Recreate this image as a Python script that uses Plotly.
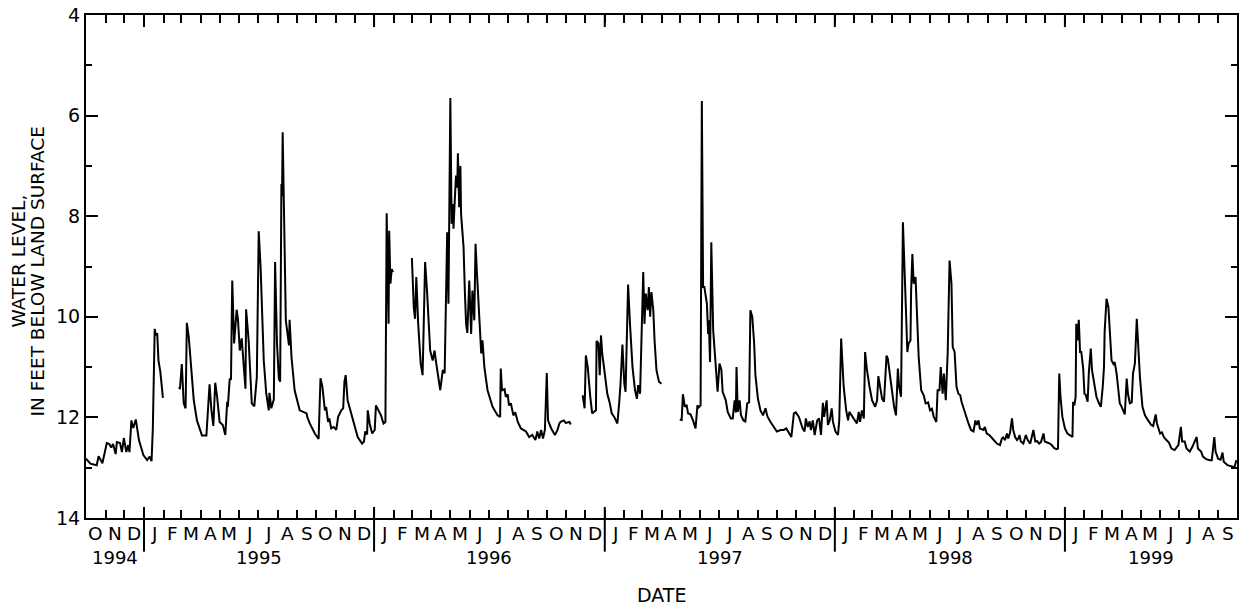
import pandas as pd
import plotly.graph_objects as go

START = pd.Timestamp("1994-10-01")
END = pd.Timestamp("1999-10-01")

# ---- data: days since 1994-10-01 and water level (ft below land surface) ----
days_a = [0, 7, 17, 20, 26, 33, 37, 40, 43, 47, 49, 54, 57, 60, 64, 67, 69, 72, 75, 79,
          84, 91, 97, 101, 104, 106, 109, 111, 113, 115, 118, 122]
level_a = [12.82, 12.92, 12.95, 12.77, 12.91, 12.51, 12.53, 12.60, 12.53, 12.73, 12.49, 12.51,
           12.69, 12.41, 12.69, 12.55, 12.69, 12.06, 12.21, 12.04, 12.45, 12.75, 12.85, 12.78,
           12.87, 12.22, 10.24, 10.37, 10.33, 10.87, 11.10, 11.61]

days_b = [148, 149, 152, 154, 155, 158, 160, 163, 167, 171, 176, 184, 191, 196, 199, 202, 205,
          208, 212, 217, 221, 224, 225, 228, 230, 232, 235, 239, 241, 244, 247, 250, 253, 254,
          258, 263, 267, 271, 274, 277, 282, 286, 290, 291, 294, 298, 300, 303, 306, 308, 310,
          311, 312, 317, 322, 323, 326, 331, 339, 350, 351, 355, 363, 369, 372, 375, 379, 381,
          384, 386, 389, 393, 397, 400, 405, 408, 410, 412, 415, 421, 426, 431, 438, 441, 443,
          446, 447, 450, 454, 458, 460, 464, 468, 472, 475, 477, 480, 481, 483, 485, 487]
level_b = [11.39, 11.44, 10.94, 11.39, 11.72, 11.82, 10.12, 10.40, 11.00, 11.66, 12.06, 12.36,
           12.36, 11.34, 11.86, 12.17, 11.31, 11.59, 12.09, 12.15, 12.35, 11.69, 11.79, 11.23,
           11.25, 9.28, 10.53, 9.86, 10.04, 10.67, 10.43, 11.00, 11.43, 9.85, 10.47, 11.72,
           11.78, 11.20, 8.30, 9.01, 10.87, 11.53, 11.86, 11.51, 11.82, 11.64, 8.91, 10.53,
           11.23, 11.29, 7.36, 7.60, 6.33, 10.07, 10.57, 10.06, 10.80, 11.46, 11.86, 11.92,
           11.99, 12.12, 12.32, 12.43, 11.22, 11.39, 11.86, 11.79, 12.09, 12.02, 12.22, 12.19,
           12.25, 11.99, 11.86, 11.82, 11.29, 11.16, 11.66, 11.92, 12.12, 12.39, 12.52, 12.48,
           12.28, 12.34, 11.86, 12.12, 12.32, 12.25, 11.76, 11.86, 11.96, 12.12, 12.09, 7.94,
           10.14, 8.29, 9.34, 9.05, 9.11]

days_c = [517, 520, 522, 524, 527, 531, 534, 538, 541, 546, 550, 553, 555, 559, 562, 566, 569,
          573, 575, 578, 580, 582, 583, 585, 587, 589, 590, 592, 594, 595, 599, 601, 603, 605,
          608, 611, 613, 616, 618, 620, 623, 627, 629, 632, 637, 645, 653, 657, 658, 660, 664,
          666, 669, 671, 674, 678, 681, 685, 690, 698, 703, 708, 713, 716, 719, 722, 725, 728,
          731, 733, 738, 744, 748, 751, 753, 758, 761, 767, 769]
level_c = [8.83, 9.81, 10.04, 9.21, 10.14, 10.93, 11.16, 8.91, 9.48, 10.67, 10.87, 10.67, 10.87,
           11.26, 11.46, 11.06, 11.12, 8.32, 9.74, 5.65, 8.15, 7.76, 8.25, 7.69, 7.19, 7.43,
           6.75, 7.82, 7.00, 7.95, 8.62, 9.48, 10.14, 10.32, 9.28, 10.34, 9.48, 10.07, 8.55,
           9.08, 9.74, 10.73, 10.47, 11.00, 11.46, 11.79, 11.96, 11.99, 11.03, 11.46, 11.44,
           11.59, 11.54, 11.76, 11.72, 11.96, 11.90, 12.09, 12.22, 12.28, 12.39, 12.35, 12.45,
           12.28, 12.42, 12.25, 12.42, 12.25, 11.12, 12.06, 12.22, 12.35, 12.25, 12.12, 12.09,
           12.06, 12.11, 12.09, 12.14]

days_d = [788, 791, 793, 796, 800, 803, 809, 810, 813, 815, 817, 819, 823, 827, 831, 834, 838,
          843, 846, 848, 851, 854, 856, 860, 863, 867, 871, 874, 876, 879, 884, 886, 888, 891,
          893, 895, 897, 900, 902, 905, 909, 913]
level_d = [11.56, 11.82, 10.77, 11.00, 11.59, 11.92, 11.86, 10.48, 10.53, 11.16, 10.37, 10.73,
           11.13, 11.53, 11.72, 11.92, 11.99, 12.12, 11.69, 11.33, 10.55, 11.33, 11.49, 9.36,
           10.14, 11.00, 11.46, 11.63, 11.36, 11.53, 9.11, 10.14, 9.54, 9.87, 9.41, 10.00,
           9.51, 9.87, 10.47, 11.06, 11.29, 11.33]

days_e = [942, 945, 947, 950, 953, 955, 959, 963, 967, 970, 972, 975, 977, 979, 981, 985, 987,
          988, 990, 992, 995, 999, 1002, 1005, 1008, 1010, 1015, 1018, 1023, 1026, 1029, 1031,
          1032, 1034, 1037, 1039, 1043, 1046, 1049, 1052, 1054, 1057, 1060, 1062, 1066, 1070,
          1074, 1078, 1081, 1086, 1091, 1096, 1102, 1107, 1111, 1115, 1119, 1123, 1126, 1131,
          1134, 1137, 1140, 1142, 1145, 1148, 1150, 1153, 1156, 1160, 1163, 1166, 1169, 1171,
          1175, 1177, 1180, 1183, 1185, 1189, 1193]
level_e = [12.04, 12.05, 11.54, 11.79, 11.75, 11.92, 11.94, 12.06, 12.22, 11.76, 11.80, 11.76,
           5.71, 9.41, 9.41, 9.74, 10.34, 10.07, 10.90, 8.52, 10.27, 11.00, 11.49, 10.93, 11.05,
           11.49, 11.66, 11.89, 12.02, 12.02, 11.66, 11.90, 11.00, 11.89, 11.66, 11.95, 12.06,
           12.08, 11.72, 11.70, 9.87, 10.00, 10.53, 11.16, 11.63, 11.86, 11.96, 11.82, 11.98,
           12.09, 12.19, 12.28, 12.25, 12.25, 12.22, 12.32, 12.39, 11.92, 11.90, 11.99, 12.12,
           12.22, 12.28, 12.02, 12.19, 12.08, 12.25, 12.06, 12.35, 12.06, 12.02, 12.35, 11.71,
           11.99, 11.66, 12.15, 12.05, 11.82, 12.09, 12.28, 12.35]

days_f = [1195, 1198, 1200, 1202, 1206, 1209, 1211, 1215, 1219, 1223, 1226, 1228, 1231, 1234,
          1236, 1239, 1243, 1247, 1252, 1255, 1257, 1260, 1263, 1266, 1270, 1272, 1275, 1279,
          1282, 1285, 1288, 1290, 1293, 1296, 1299, 1301, 1303, 1305, 1308, 1309, 1311, 1313,
          1316, 1318, 1321, 1325, 1329, 1332, 1336, 1339, 1342, 1345, 1349, 1351, 1354, 1356,
          1359, 1361, 1364, 1367, 1370, 1373, 1375, 1378, 1381, 1384, 1387, 1389, 1392, 1396,
          1400, 1404, 1408, 1411, 1413, 1416, 1418, 1424, 1426, 1429, 1433, 1438, 1445, 1450,
          1453, 1455, 1458, 1461, 1463, 1466, 1469, 1471, 1474, 1477, 1479, 1481, 1483, 1487,
          1491, 1494, 1498, 1503, 1506, 1509, 1512, 1515, 1519, 1521, 1526, 1529, 1532, 1536,
          1540, 1542]
level_f = [12.06, 10.43, 10.93, 11.39, 11.86, 12.06, 11.89, 11.97, 12.06, 12.12, 11.89, 12.09,
           11.86, 12.02, 10.70, 11.06, 11.39, 11.66, 11.79, 11.66, 11.18, 11.39, 11.63, 11.69,
           10.77, 10.83, 11.13, 11.53, 11.79, 11.96, 11.03, 11.39, 11.59, 8.12, 9.01, 9.94,
           10.70, 10.53, 10.47, 9.48, 8.75, 9.34, 9.21, 9.87, 10.80, 11.46, 11.56, 11.72, 11.70,
           11.86, 11.83, 11.99, 12.09, 11.46, 11.46, 11.00, 11.53, 11.13, 11.66, 10.73, 8.88,
           9.34, 10.60, 10.70, 11.39, 11.53, 11.56, 11.69, 11.82, 11.99, 12.12, 12.25, 12.28,
           12.06, 12.15, 12.06, 12.22, 12.25, 12.19, 12.32, 12.35, 12.42, 12.52, 12.55, 12.42,
           12.40, 12.45, 12.32, 12.42, 12.30, 12.02, 12.25, 12.39, 12.45, 12.42, 12.35, 12.48,
           12.52, 12.35, 12.45, 12.52, 12.25, 12.48, 12.47, 12.52, 12.49, 12.32, 12.48, 12.50,
           12.52, 12.55, 12.61, 12.63, 12.62]

days_g = [1544, 1546, 1549, 1553, 1557, 1561, 1565, 1566, 1568, 1570, 1571, 1573, 1575, 1577,
          1579, 1582, 1584, 1586, 1589, 1591, 1594, 1596, 1600, 1603, 1607, 1610, 1613, 1615,
          1616, 1619, 1622, 1624, 1627, 1630, 1632, 1635, 1637, 1640, 1643, 1645, 1648, 1651,
          1653, 1656, 1659, 1661, 1664, 1667, 1669, 1672, 1676, 1680, 1685, 1690, 1693, 1697,
          1699, 1704, 1707, 1710, 1714, 1718, 1722, 1727, 1733, 1735, 1737, 1739, 1743, 1746,
          1751, 1755, 1759, 1762, 1764, 1769, 1772, 1777, 1783, 1786, 1790, 1792, 1796, 1800,
          1803, 1805, 1811, 1817, 1822, 1825]
level_g = [11.13, 11.59, 11.99, 12.22, 12.32, 12.36, 12.39, 11.69, 11.76, 11.59, 10.14, 10.47,
           10.06, 10.70, 10.70, 11.03, 11.53, 11.55, 11.69, 11.10, 10.63, 11.06, 11.36, 11.59,
           11.72, 11.79, 11.39, 11.00, 10.30, 9.64, 9.81, 10.27, 10.87, 10.94, 10.90, 11.13,
           11.39, 11.72, 11.79, 11.85, 11.94, 11.23, 11.53, 11.72, 11.70, 11.13, 10.93, 10.04,
           10.47, 11.20, 11.79, 11.96, 12.06, 12.15, 12.17, 11.94, 12.12, 12.32, 12.30, 12.39,
           12.45, 12.50, 12.62, 12.65, 12.55, 12.35, 12.19, 12.48, 12.48, 12.62, 12.68, 12.59,
           12.48, 12.39, 12.62, 12.68, 12.78, 12.83, 12.85, 12.85, 12.39, 12.68, 12.82, 12.84,
           12.70, 12.88, 12.95, 12.98, 12.99, 12.85]

# continuous runs of record (gaps between runs)
runs = [
    (days_a, level_a),
    (days_b, level_b),
    (days_c, level_c),
    (days_d, level_d),
    (days_e + days_f + days_g, level_e + level_f + level_g),
]

month_letters = ["O", "N", "D",
                 "J", "F", "M", "A", "M", "J", "J", "A", "S", "O", "N", "D",
                 "J", "F", "M", "A", "M", "J", "J", "A", "S", "O", "N", "D",
                 "J", "F", "M", "A", "M", "J", "J", "A", "S", "O", "N", "D",
                 "J", "F", "M", "A", "M", "J", "J", "A", "S", "O", "N", "D",
                 "J", "F", "M", "A", "M", "J", "J", "A", "S"]
year_labels = ["1994", "1995", "1996", "1997", "1998", "1999"]

# ---- build series with gaps ----
xs, ys = [], []
for i, (d, v) in enumerate(runs):
    if i > 0:
        xs.append(None)
        ys.append(None)
    xs.extend(START + pd.to_timedelta(d, unit="D"))
    ys.extend(v)

FONT = "DejaVu Sans"
fig = go.Figure()
fig.add_trace(go.Scatter(x=xs, y=ys, mode="lines", connectgaps=False,
                         line=dict(color="black", width=2), hoverinfo="skip"))

month_starts = pd.date_range(START, END, freq="MS")
annotations = []
for i, lab in enumerate(month_letters):
    mid = month_starts[i] + (month_starts[i + 1] - month_starts[i]) / 2
    annotations.append(dict(x=mid, y=0, xref="x", yref="paper", text=lab, showarrow=False,
                            yanchor="middle", yshift=-15, font=dict(size=18.5, family=FONT)))

for lab in year_labels:
    y0 = max(pd.Timestamp(f"{lab}-01-01"), START)
    y1 = min(pd.Timestamp(f"{int(lab) + 1}-01-01"), END)
    annotations.append(dict(x=y0 + (y1 - y0) / 2, y=0, xref="x", yref="paper", text=lab,
                            showarrow=False, yanchor="middle", yshift=-39,
                            font=dict(size=18, family=FONT)))

annotations.append(dict(x=0.5, y=0, xref="paper", yref="paper", text="DATE", showarrow=False,
                        yanchor="middle", yshift=-77, font=dict(size=19, family=FONT)))
annotations.append(dict(x=0, y=0.51, xref="paper", yref="paper", text="WATER LEVEL,",
                        showarrow=False, textangle=-90, xanchor="center", yanchor="middle",
                        xshift=-68, font=dict(size=18.5, family=FONT)))
annotations.append(dict(x=0, y=0.49, xref="paper", yref="paper",
                        text="IN FEET BELOW LAND SURFACE", showarrow=False, textangle=-90,
                        xanchor="center", yanchor="middle", xshift=-48,
                        font=dict(size=18.5, family=FONT)))

shapes = []
for yr in year_labels[1:]:
    t = pd.Timestamp(f"{yr}-01-01")
    shapes.append(dict(type="line", x0=t, x1=t, xref="x", yref="paper", y0=-0.067, y1=0.022,
                       line=dict(color="black", width=2)))
    shapes.append(dict(type="line", x0=t, x1=t, xref="x", yref="paper", y0=0.976, y1=1.0,
                       line=dict(color="black", width=2)))

fig.update_layout(
    width=1243, height=609,
    margin=dict(l=86, r=4, t=14, b=91),
    plot_bgcolor="white", paper_bgcolor="white",
    showlegend=False,
    font=dict(family=FONT, size=18, color="black"),
    annotations=annotations,
    shapes=shapes,
    xaxis=dict(type="date", range=[START, END], showgrid=False, zeroline=False,
               showline=True, linecolor="black", linewidth=2, mirror="allticks",
               ticks="inside", ticklen=8, tickwidth=2, tickcolor="black",
               tick0=START, dtick="M1", showticklabels=False),
    yaxis=dict(range=[14, 4], showgrid=False, zeroline=False,
               showline=True, linecolor="black", linewidth=2, mirror="allticks",
               ticks="inside", ticklen=12, tickwidth=2, tickcolor="black",
               tick0=4, dtick=2, tickfont=dict(size=19, family=FONT),
               minor=dict(dtick=1, tick0=4, ticks="inside", ticklen=6, tickwidth=2,
                          tickcolor="black", showgrid=False)),
)

fig.write_html("out.html")
